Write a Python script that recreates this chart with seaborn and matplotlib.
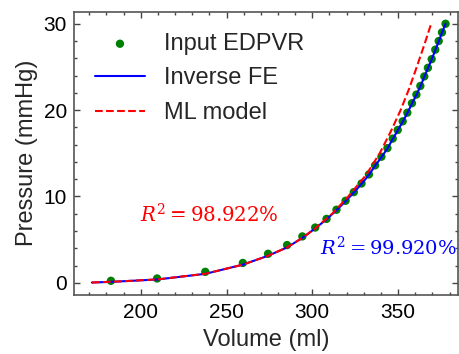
import matplotlib
matplotlib.use("Agg")
import matplotlib.pyplot as plt
import seaborn as sns
from matplotlib.ticker import MultipleLocator

# ---- data ----
edpvr_volume = [182.6, 209.5, 237.6, 259.5, 274.2, 285.3, 294.2, 301.7, 308.3, 314.1,
                319.4, 324.2, 328.7, 333.0, 336.6, 340.3, 343.8, 346.9, 349.8, 352.7,
                355.4, 358.1, 360.7, 363.0, 365.3, 367.4, 369.6, 371.7, 373.7, 375.6, 377.7]
edpvr_pressure = [0.23, 0.5, 1.27, 2.3, 3.36, 4.37, 5.37, 6.4, 7.4, 8.46,
                  9.5, 10.5, 11.5, 12.55, 13.6, 14.6, 15.6, 16.7, 17.7, 18.7,
                  19.7, 20.8, 21.8, 22.8, 23.9, 24.9, 25.9, 27.0, 28.0, 29.0, 30.0]

fe_volume = [171.5, 182.6, 209.5, 237.6, 259.5, 274.2, 285.3, 294.2, 301.7, 308.3, 314.1,
             319.4, 324.2, 328.7, 333.0, 336.6, 340.3, 343.8, 346.9, 349.8, 352.7,
             355.4, 358.1, 360.7, 363.0, 365.3, 367.4, 369.6, 371.7, 373.7, 375.6, 377.7]
fe_pressure = [0.03, 0.11, 0.38, 1.04, 2.1, 3.13, 4.1, 5.2, 6.3, 7.35, 8.4,
               9.45, 10.45, 11.45, 12.5, 13.55, 14.55, 15.55, 16.65, 17.65, 18.65,
               19.65, 20.75, 21.75, 22.75, 23.85, 24.85, 25.85, 26.95, 27.95, 28.95, 30.0]

ml_volume = [171.5, 190.0, 210.0, 237.6, 259.5, 274.2, 285.3, 294.2, 301.7, 311.6,
             321.0, 331.4, 339.3, 345.7, 351.5, 356.5, 360.9, 365.2, 369.3]
ml_pressure = [0.03, 0.18, 0.4, 1.04, 2.1, 3.13, 4.1, 5.2, 6.3, 8.0,
               10.0, 12.5, 15.0, 17.5, 20.0, 22.5, 25.0, 27.5, 30.0]

r2_ml_text = r"$R^2 = 98.922\%$"
r2_fe_text = r"$R^2 = 99.920\%$"

# ---- style ----
sns.set_style("ticks")
plt.rcParams["font.family"] = ["Liberation Sans", "DejaVu Sans"]
plt.rcParams["mathtext.fontset"] = "dejavuserif"

fig = plt.figure(figsize=(4.59, 3.54), dpi=100)
ax = fig.add_axes([0.161, 0.167, 0.837, 0.800])

sns.scatterplot(x=edpvr_volume, y=edpvr_pressure, ax=ax, color="green", s=36,
                edgecolor="none", label="Input EDPVR", zorder=2)
sns.lineplot(x=fe_volume, y=fe_pressure, ax=ax, color="blue", lw=1.5,
             sort=False, estimator=None, label="Inverse FE", zorder=3)
sns.lineplot(x=ml_volume, y=ml_pressure, ax=ax, color="red", lw=1.5, linestyle="--",
             sort=False, estimator=None, label="ML model", zorder=4)

ax.text(199.4, 7.0, r2_ml_text, color="red", fontsize=14.2, va="baseline", ha="left")
ax.text(304.5, 3.25, r2_fe_text, color="blue", fontsize=14, va="baseline", ha="left",
        clip_on=False)

ax.set_xlim(161, 385)
ax.set_ylim(-1.4, 31.4)
ax.xaxis.set_major_locator(MultipleLocator(50))
ax.xaxis.set_minor_locator(MultipleLocator(10))
ax.yaxis.set_major_locator(MultipleLocator(10))
ax.yaxis.set_minor_locator(MultipleLocator(2))
ax.tick_params(which="both", direction="in", top=True, right=True, colors="#444444",
               labelcolor="black", labelsize=15)
ax.tick_params(which="major", length=4.5, width=1)
ax.tick_params(which="minor", length=2.5, width=1)
ax.tick_params(axis="x", which="major", pad=6)
ax.tick_params(axis="y", which="major", pad=5)
for sp in ax.spines.values():
    sp.set_visible(True)
    sp.set_color("#555555")
    sp.set_linewidth(1.2)

ax.set_xlabel("Volume (ml)", fontsize=17, labelpad=5)
ax.set_ylabel("Pressure (mmHg)", fontsize=17, labelpad=4)

ax.legend(loc="upper left", frameon=False, fontsize=17, handlelength=2.1,
          labelspacing=0.53, handletextpad=0.8, borderaxespad=0.5)

fig.savefig("out.png", dpi=100)
